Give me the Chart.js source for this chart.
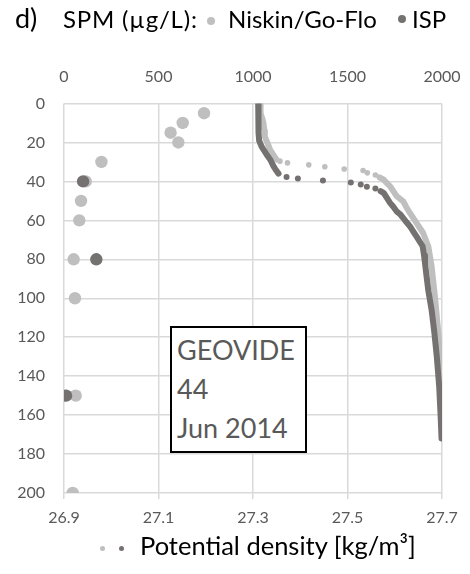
<!DOCTYPE html>
<html>
<head>
<meta charset="utf-8">
<script src="https://cdn.jsdelivr.net/npm/chart.js@4.4.1/dist/chart.umd.min.js"></script>
<style>
  body { margin: 0; background: #fff; }
  #wrap { position: relative; width: 470px; height: 574px; font-family: Lato, sans-serif; }
  #wrap canvas { position: absolute; left: 0; top: 0; }
  .txt { position: absolute; white-space: nowrap; color: #000; }
  .dot { position: absolute; border-radius: 50%; }
  #box { position: absolute; left: 170px; top: 326px; width: 128px; height: 121px;
         border: 2px solid #000; background: #fff; color: #595959;
         font-size: 27px; line-height: 39px; padding: 2px 0 0 5px; box-sizing: content-box; }
</style>
</head>
<body>
<div id="wrap">
  <canvas id="chart" width="470" height="574"></canvas>
  <div class="txt" style="left:15px; top:4px; font-size:27px; line-height:27px;">d)</div>
  <div class="txt" style="left:63px; top:7px; font-size:24px; line-height:24px; letter-spacing:0.8px;">SPM (µg/L):</div>
  <div class="dot" style="left:207px; top:17px; width:8px; height:8px; background:#bfbfbf;"></div>
  <div class="txt" style="left:228px; top:7px; font-size:24px; line-height:24px;">Niskin/Go-Flo</div>
  <div class="dot" style="left:398px; top:15px; width:8px; height:8px; background:#767171;"></div>
  <div class="txt" style="left:412px; top:7px; font-size:24px; line-height:24px;">ISP</div>
  <div class="dot" style="left:100px; top:546px; width:5px; height:5px; background:#bfbfbf;"></div>
  <div class="dot" style="left:119px; top:546px; width:5px; height:5px; background:#767171;"></div>
  <div class="txt" style="left:140px; top:533px; font-size:25.5px; line-height:25.5px;">Potential density [kg/m³]</div>
  <div id="box">GEOVIDE<br>44<br>Jun 2014</div>
</div>
<script>
// SPM samples: depth (m) and concentration (µg/L)
const niskinDepth = [5, 10, 15, 20, 30, 40, 50, 60, 80, 100, 150, 200];
const niskinSpm   = [741, 628, 564, 605, 198, 115, 90, 81, 51, 58, 62, 46];
const ispDepth = [40, 80, 150];
const ispSpm   = [101, 171, 11];

// potential density profiles, [density, depth]
const lightUpper = [[27.315, 0], [27.316, 5], [27.320, 8], [27.322, 10], [27.324, 14], [27.325, 17],
  [27.330, 20], [27.336, 23.6], [27.342, 26], [27.350, 28.8]];
const lightDots = [[27.357, 29.6], [27.373, 30.5], [27.418, 31.5], [27.452, 32.5], [27.493, 33.6],
  [27.533, 34.4], [27.542, 35.6], [27.559, 36.7]];
const lightLower = [[27.568, 38], [27.576, 39], [27.584, 41], [27.590, 42.5], [27.597, 45],
  [27.604, 47.6], [27.618, 50.2], [27.624, 53], [27.632, 56.2], [27.646, 61.3], [27.660, 66.5],
  [27.671, 73.3], [27.678, 83.6], [27.685, 99], [27.690, 112], [27.695, 125], [27.697, 140], [27.698, 158]];

const darkUpper = [[27.311, 0], [27.311, 5], [27.312, 10], [27.312, 15], [27.313, 19], [27.318, 22],
  [27.323, 24], [27.331, 27], [27.337, 29], [27.343, 32], [27.348, 34], [27.354, 36]];
const darkDots = [[27.371, 37.7], [27.395, 38.5], [27.448, 39.6], [27.507, 40.6], [27.528, 41.6],
  [27.541, 42.7], [27.559, 43.7]];
const darkLower = [[27.570, 45], [27.577, 46], [27.582, 48], [27.590, 51], [27.597, 53], [27.604, 55.4],
  [27.612, 57], [27.618, 58.8], [27.625, 61], [27.632, 63], [27.640, 66], [27.646, 68.2], [27.653, 71],
  [27.659, 73.3], [27.662, 78], [27.664, 82], [27.668, 90], [27.671, 96], [27.678, 106], [27.684, 118],
  [27.689, 130], [27.694, 145], [27.697, 160], [27.699, 172]];

const LIGHT = '#bfbfbf';
const DARK = '#767171';
const tickFont = { family: 'Lato', size: 16 };

const toPts = arr => arr.map(p => ({ x: p[0], y: p[1] }));
const spmPts = (spm, depth) => spm.map((v, i) => ({ x: v, y: depth[i] }));

const lineSet = (data, color, order) => ({
  data: toPts(data), xAxisID: 'x', showLine: true, borderColor: color, borderWidth: 6,
  pointRadius: 0, borderJoinStyle: 'round', borderCapStyle: 'round', order
});
const dotSet = (data, color, r, order) => ({
  data: toPts(data), xAxisID: 'x', showLine: false, backgroundColor: color, borderWidth: 0,
  pointRadius: r, order
});

new Chart(document.getElementById('chart'), {
  type: 'scatter',
  data: {
    datasets: [
      { data: spmPts(ispSpm, ispDepth), xAxisID: 'xSpm', backgroundColor: DARK, borderWidth: 0, pointRadius: 6.2, order: 1 },
      { data: spmPts(niskinSpm, niskinDepth), xAxisID: 'xSpm', backgroundColor: LIGHT, borderWidth: 0, pointRadius: 6.2, order: 2 },
      lineSet(darkUpper, DARK, 3),
      dotSet(darkDots, DARK, 3, 3),
      lineSet(darkLower, DARK, 3),
      lineSet(lightUpper, LIGHT, 4),
      dotSet(lightDots, LIGHT, 2.8, 4),
      lineSet(lightLower, LIGHT, 4)
    ]
  },
  options: {
    responsive: false,
    animation: false,
    layout: { padding: { left: 0, right: 28, top: 60, bottom: 0 } },
    plugins: { legend: { display: false }, tooltip: { enabled: false } },
    scales: {
      x: {
        type: 'linear', position: 'bottom', min: 26.9, max: 27.7,
        ticks: { stepSize: 0.2, color: '#595959', font: tickFont, padding: 9, callback: v => v.toFixed(1) },
        grid: { color: '#d9d9d9', lineWidth: 1.5, tickLength: 6 },
        border: { display: false },
        afterFit: s => { s.height = 81; }
      },
      xSpm: {
        type: 'linear', position: 'top', min: 0, max: 2000,
        ticks: { stepSize: 500, color: '#595959', font: tickFont, padding: 9, callback: v => String(v) },
        grid: { display: false },
        border: { display: false },
        afterFit: s => { s.height = 43.5; }
      },
      y: {
        type: 'linear', reverse: true, min: 0, max: 200,
        ticks: { stepSize: 20, color: '#595959', font: tickFont, padding: 19, callback: v => String(v) },
        grid: { color: '#d9d9d9', lineWidth: 1.5, drawTicks: false },
        border: { display: false },
        afterFit: s => { s.width = 64; }
      }
    }
  }
});
</script>
</body>
</html>
